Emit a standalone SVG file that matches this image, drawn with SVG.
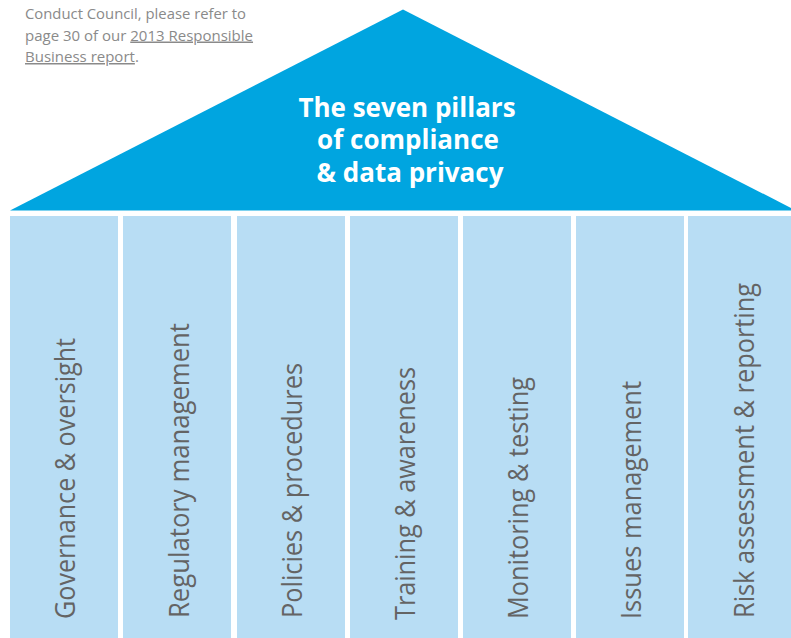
<svg xmlns="http://www.w3.org/2000/svg" width="791" height="638" viewBox="0 0 791 638">
  <style>
    .note { font-family: "Open Sans", "Liberation Sans", sans-serif; font-size: 15px; fill: #8a8a8a; }
    .link { text-decoration: underline; }
    .roof { fill: #00a5e0; }
    .title { font-family: "Open Sans", "Liberation Sans", sans-serif; font-weight: bold; font-size: 26px; fill: #ffffff; text-anchor: middle; }
    .pillar rect { fill: #b8ddf4; }
    .pillar text { font-family: "Open Sans", "Liberation Sans", sans-serif; font-size: 27px; fill: #646464; }
  </style>
  <rect width="791" height="638" fill="#ffffff"/>

  <!-- side note -->
  <g id="note">
    <text class="note" x="25" y="18.5" textLength="221" lengthAdjust="spacingAndGlyphs">Conduct Council, please refer to</text>
    <text class="note" x="25" y="40.5">page 30 of our <tspan class="link">2013 Responsible </tspan></text>
    <text class="note" x="25" y="62"><tspan class="link">Business report</tspan>.</text>
  </g>

  <!-- roof -->
  <g id="roof">
    <polygon class="roof" points="10,210.5 403,9.5 796,210.5"/>
    <text class="title" x="407" y="116.5">The seven pillars</text>
    <text class="title" x="408" y="149">of compliance</text>
    <text class="title" x="410" y="181.5">&amp; data privacy</text>
  </g>

  <!-- pillars -->
  <g id="pillar-1" class="pillar">
    <rect x="10" y="216" width="108" height="422"/>
    <text transform="translate(75,619) rotate(-90)" textLength="281" lengthAdjust="spacingAndGlyphs">Governance &amp; oversight</text>
  </g>
  <g id="pillar-2" class="pillar">
    <rect x="123" y="216" width="108" height="422"/>
    <text transform="translate(189,618) rotate(-90)" textLength="295" lengthAdjust="spacingAndGlyphs">Regulatory management</text>
  </g>
  <g id="pillar-3" class="pillar">
    <rect x="237" y="216" width="108" height="422"/>
    <text transform="translate(301.5,618) rotate(-90)" textLength="255" lengthAdjust="spacingAndGlyphs">Policies &amp; procedures</text>
  </g>
  <g id="pillar-4" class="pillar">
    <rect x="350" y="216" width="108" height="422"/>
    <text transform="translate(415,620) rotate(-90)" textLength="253" lengthAdjust="spacingAndGlyphs">Training &amp; awareness</text>
  </g>
  <g id="pillar-5" class="pillar">
    <rect x="463" y="216" width="108" height="422"/>
    <text transform="translate(528,619) rotate(-90)" textLength="242" lengthAdjust="spacingAndGlyphs">Monitoring &amp; testing</text>
  </g>
  <g id="pillar-6" class="pillar">
    <rect x="576" y="216" width="108" height="422"/>
    <text transform="translate(641,619) rotate(-90)" textLength="238" lengthAdjust="spacingAndGlyphs">Issues management</text>
  </g>
  <g id="pillar-7" class="pillar">
    <rect x="688" y="216" width="103" height="422"/>
    <text transform="translate(754,618) rotate(-90)" textLength="335" lengthAdjust="spacingAndGlyphs">Risk assessment &amp; reporting</text>
  </g>
</svg>
